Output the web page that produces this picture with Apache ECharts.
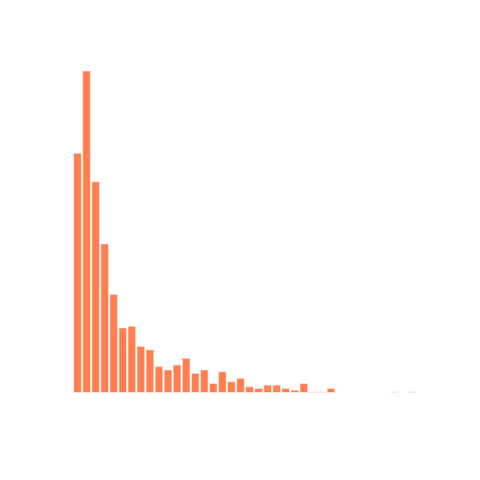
<!DOCTYPE html>
<html>
<head>
<meta charset="utf-8">
<script src="https://cdn.jsdelivr.net/npm/echarts@6/dist/echarts.min.js"></script>
<style>
html,body{margin:0;padding:0;background:#fff;}
#chart{width:480px;height:480px;}
</style>
</head>
<body>
<div id="chart"></div>
<script>
// histogram bins (index) and counts
const bins = Array.from({length: 38}, (_, i) => String(i + 1));
const counts = [143, 192, 126, 89, 59, 39, 40, 28, 26, 16, 14, 17, 21, 12, 14, 6, 13, 7, 9, 4, 3, 5, 5, 3, 2, 6, 1, 1, 3, 0, 0, 0, 0, 0, 0, 1, 0, 1];

const chart = echarts.init(document.getElementById('chart'));
chart.setOption({
  animation: false,
  grid: {left: 73, right: 63, top: 57, bottom: 87},
  xAxis: {
    type: 'category',
    data: bins,
    show: false
  },
  yAxis: {
    type: 'value',
    min: 0,
    max: 200,
    show: false
  },
  series: [{
    type: 'bar',
    data: counts,
    barCategoryGap: '4%',
    itemStyle: {
      color: '#ff7f50',
      borderColor: 'rgba(255,255,255,0.5)',
      borderWidth: 1
    }
  }]
});
</script>
</body>
</html>
